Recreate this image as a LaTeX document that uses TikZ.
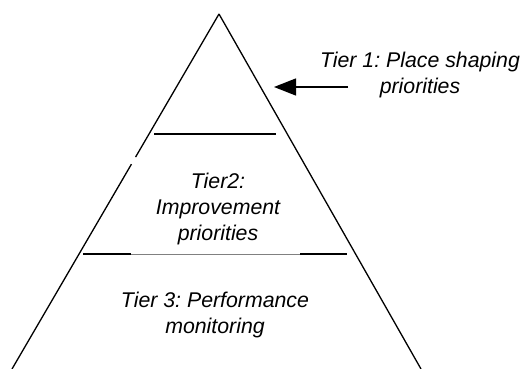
\documentclass[tikz,border=0pt]{standalone}
\usepackage{fontspec}
\setmainfont{Liberation Sans}
\usetikzlibrary{arrows.meta,calc,positioning}

\begin{document}
\frenchspacing
\begin{tikzpicture}[x=1pt,y=-1pt]
	\tikzset{tier/.style={font=\fontsize{21.3}{26}\selectfont\itshape, align=center, inner sep=0pt}}
	\tikzset{edge/.style={line width=1.3pt}}
	\useasboundingbox (0,0) rectangle (523,369);
	% pyramid
	\coordinate (apex) at (219,14);
	\coordinate (bl) at (12,369);
	\coordinate (br) at (421,369);
	\draw [edge] (apex) -- (br);
	\draw [edge] (apex) -- ($(apex)!0.403!(bl)$);
	\draw [edge] ($(apex)!0.423!(bl)$) -- (bl);
	% tier borders
	\draw [edge] (154,134) -- (276,134);
	\draw [edge] (83,254) -- (131,254);
	\draw [line width=0.6pt, gray] (131,254) -- (300,254);
	\draw [edge] (300,254) -- (347,254);
	% labels
	\node [tier] (t1) at (420,75) {Tier 1: Place shaping\\priorities};
	\node [tier] (t2) at (218,209) {Tier2:\\Improvement\\priorities};
	\node [tier] (t3) at (215,315) {Tier 3: Performance\\monitoring};
	\coordinate (tail) at (348,87);
	\coordinate (tip) at (274,87);
	\draw [edge, -{Triangle[length=22pt,width=17pt]}] (tail) -- (tip);
\end{tikzpicture}
\end{document}
